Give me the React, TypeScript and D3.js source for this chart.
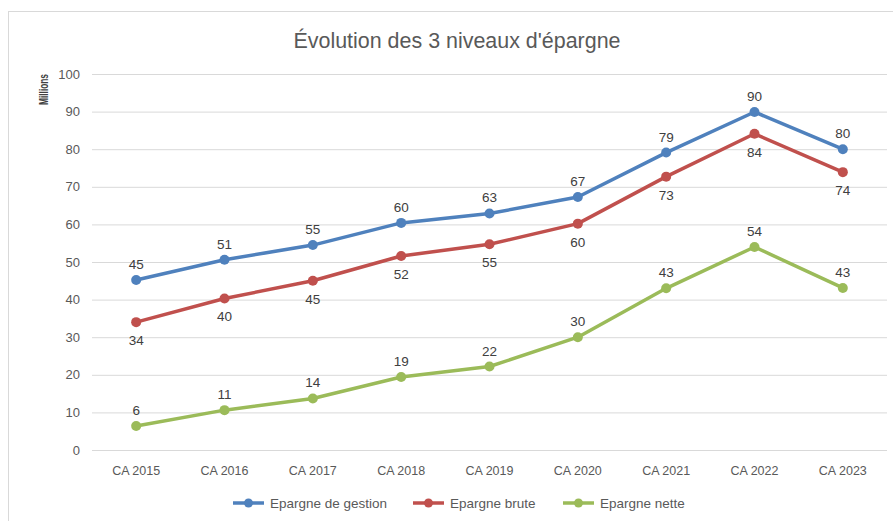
import React from 'react';
import * as d3 from 'd3';

const categories = ['CA 2015', 'CA 2016', 'CA 2017', 'CA 2018', 'CA 2019', 'CA 2020', 'CA 2021', 'CA 2022', 'CA 2023'];
const gestion = [45.2, 50.6, 54.5, 60.4, 62.9, 67.3, 79.1, 89.9, 80.0];
const brute = [34.0, 40.3, 45.0, 51.6, 54.7, 60.2, 72.7, 84.1, 73.9];
const nette = [6.4, 10.6, 13.7, 19.4, 22.2, 30.0, 43.0, 54.0, 43.1];
const yTicks = [0, 10, 20, 30, 40, 50, 60, 70, 80, 90, 100];

const series = [
  { name: 'Epargne de gestion', values: gestion, color: '#4F81BD', labelPos: 'above' },
  { name: 'Epargne brute', values: brute, color: '#C0504D', labelPos: 'below' },
  { name: 'Epargne nette', values: nette, color: '#9BBB59', labelPos: 'above' },
];

const W = 893;
const H = 521;
const font = "'Liberation Sans', Arial, sans-serif";
const textColor = '#595959';

export default function App() {
  const x = d3.scaleBand().domain(categories).range([92, 887]);
  const y = d3.scaleLinear().domain([0, 100]).range([450, 74]);
  const cx = (c: string) => (x(c) as number) + x.bandwidth() / 2;
  const line = d3.line<number>()
    .x((_, i) => cx(categories[i]))
    .y(d => y(d));

  const legendX = [233, 413, 563];

  return (
    <svg width={W} height={H} style={{ position: 'absolute', left: 0, top: 0, background: '#fff' }} fontFamily={font}>
      <rect x={8.5} y={11.5} width={W} height={H} fill="none" stroke="#d9d9d9" strokeWidth={1} />
      <text x={457} y={48} textAnchor="middle" fontSize={22} fill={textColor} textLength={327} lengthAdjust="spacingAndGlyphs">Évolution des 3 niveaux d'épargne</text>
      <text transform="translate(48,105) rotate(-90)" fontSize={12} fontWeight="bold" fill="#404040" textLength={31} lengthAdjust="spacingAndGlyphs">Millions</text>

      {yTicks.map(t => (
        <g key={t}>
          <line x1={92} x2={887} y1={y(t) + 0.5} y2={y(t) + 0.5} stroke="#d9d9d9" strokeWidth={1} />
          <text x={80} y={y(t) + 4.5} textAnchor="end" fontSize={13} fill={textColor}>{t}</text>
        </g>
      ))}
      {categories.map(c => (
        <text key={c} x={cx(c)} y={475} textAnchor="middle" fontSize={12.5} fill={textColor}>{c}</text>
      ))}

      {series.map(s => (
        <g key={s.name}>
          <path d={line(s.values) as string} fill="none" stroke={s.color} strokeWidth={3.5} strokeLinejoin="round" />
          {s.values.map((v, i) => (
            <circle key={i} cx={cx(categories[i])} cy={y(v)} r={5} fill={s.color} />
          ))}
          {s.values.map((v, i) => (
            <text key={'l' + i} x={cx(categories[i])} y={s.labelPos === 'above' ? y(v) - 11 : y(v) + 23}
              textAnchor="middle" fontSize={13.5} fill="#404040">{Math.round(v)}</text>
          ))}
        </g>
      ))}

      {series.map((s, i) => (
        <g key={'lg' + s.name} transform={`translate(${legendX[i]},503)`}>
          <line x1={0} x2={31} y1={0} y2={0} stroke={s.color} strokeWidth={3.5} />
          <circle cx={15.5} cy={0} r={4.5} fill={s.color} />
          <text x={37} y={4.5} fontSize={13.5} fill={textColor}>{s.name}</text>
        </g>
      ))}
    </svg>
  );
}
